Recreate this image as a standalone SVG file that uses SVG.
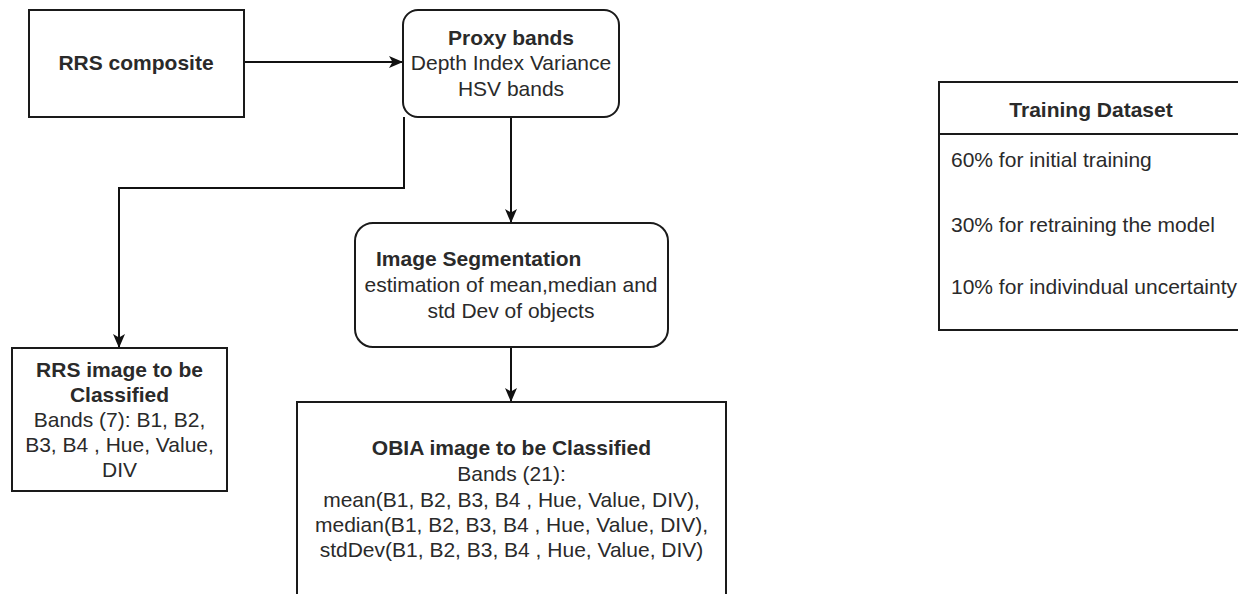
<svg xmlns="http://www.w3.org/2000/svg" width="1238" height="594" viewBox="0 0 1238 594">
  <style>
    .box { fill: #ffffff; stroke: #1a1a1a; stroke-width: 2; }
    .t { font-family: "Liberation Sans", Arial, sans-serif; font-size: 21px; fill: #2a2a2a; }
    .c { text-anchor: middle; }
    .b { font-weight: bold; }
    .edge { fill: none; stroke: #111111; stroke-width: 2; }
  </style>
  <defs>
    <marker id="arrow" viewBox="0 0 14 14" refX="14" refY="7" markerWidth="14" markerHeight="14" markerUnits="userSpaceOnUse" orient="auto">
      <path d="M0,1 L14,7 L0,13 L3.5,7 z" fill="#111111"/>
    </marker>
  </defs>
  <rect width="1238" height="594" fill="#ffffff"/>

  <g id="connectors">
    <path class="edge" d="M244,62 L403,62" marker-end="url(#arrow)"/>
    <path class="edge" d="M511,117 L511,223" marker-end="url(#arrow)"/>
    <path class="edge" d="M511,347 L511,402" marker-end="url(#arrow)"/>
    <path class="edge" d="M404,117 L404,188 L119,188 L119,348" marker-end="url(#arrow)"/>
  </g>

  <g id="rrs-composite">
    <rect class="box" x="29" y="10" width="215" height="107"/>
    <text class="t c b" x="136" y="70">RRS composite</text>
  </g>

  <g id="proxy-bands">
    <rect class="box" x="403" y="10" width="216" height="107" rx="15" ry="15"/>
    <text class="t c b" x="511" y="45">Proxy bands</text>
    <text class="t c" x="511" y="70">Depth Index Variance</text>
    <text class="t c" x="511" y="96">HSV bands</text>
  </g>

  <g id="image-segmentation">
    <rect class="box" x="355" y="223" width="313" height="124" rx="18" ry="18"/>
    <text class="t b" x="376" y="266">Image Segmentation</text>
    <text class="t c" x="511" y="292">estimation of mean,median and</text>
    <text class="t c" x="511" y="318">std Dev of objects</text>
  </g>

  <g id="rrs-image">
    <rect class="box" x="12" y="348" width="215" height="143"/>
    <text class="t c b" x="119.5" y="377">RRS image to be</text>
    <text class="t c b" x="119.5" y="402">Classified</text>
    <text class="t c" x="119.5" y="427">Bands (7): B1, B2,</text>
    <text class="t c" x="119.5" y="452">B3, B4 , Hue, Value,</text>
    <text class="t c" x="119.5" y="477">DIV</text>
  </g>

  <g id="obia-image">
    <rect class="box" x="297" y="402" width="429" height="210"/>
    <text class="t c b" x="511.5" y="455">OBIA image to be Classified</text>
    <text class="t c" x="511.5" y="481">Bands (21):</text>
    <text class="t c" x="511.5" y="507">mean(B1, B2, B3, B4 , Hue, Value, DIV),</text>
    <text class="t c" x="511.5" y="532">median(B1, B2, B3, B4 , Hue, Value, DIV),</text>
    <text class="t c" x="511.5" y="557">stdDev(B1, B2, B3, B4 , Hue, Value, DIV)</text>
  </g>

  <g id="training-dataset">
    <rect class="box" x="939" y="82" width="305" height="248"/>
    <line x1="939" y1="134" x2="1244" y2="134" stroke="#1a1a1a" stroke-width="2"/>
    <text class="t c b" x="1091" y="117">Training Dataset</text>
    <text class="t" x="951" y="167">60% for initial training</text>
    <text class="t" x="951" y="232">30% for retraining the model</text>
    <text class="t" x="951" y="294">10% for indivindual uncertainty</text>
  </g>
</svg>
